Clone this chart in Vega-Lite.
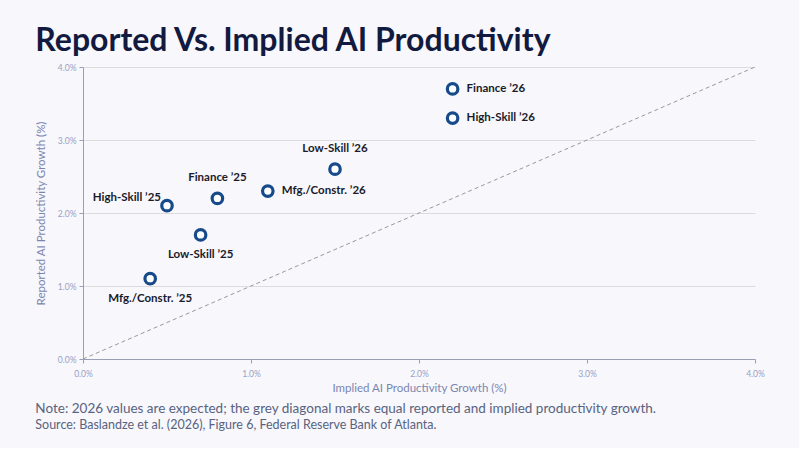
{
  "$schema": "https://vega.github.io/schema/vega-lite/v6.json",
  "background": "#f7f7fc",
  "padding": {"left": 35, "top": 25, "right": 34, "bottom": 17},
  "title": {
    "text": "Reported Vs. Implied AI Productivity",
    "anchor": "start",
    "frame": "bounds",
    "font": "Lato",
    "fontSize": 32,
    "fontWeight": "bold",
    "color": "#121a40",
    "offset": 5
  },
  "vconcat": [
    {
      "width": 672,
      "height": 292,
      "title": {
        "text": "Note: 2026 values are expected; the grey diagonal marks equal reported and implied productivity growth.",
        "subtitle": "Source: Baslandze et al. (2026), Figure 6, Federal Reserve Bank of Atlanta.",
        "orient": "bottom",
        "anchor": "start",
        "frame": "bounds",
        "offset": 8,
        "font": "Lato",
        "fontSize": 13.5,
        "fontWeight": "normal",
        "color": "#596380",
        "subtitleFont": "Lato",
        "subtitleFontSize": 12.5,
        "subtitleColor": "#596380",
        "subtitlePadding": 3
      },
      "layer": [
        {
          "data": {"values": [{"implied": 0, "reported": 0}, {"implied": 4, "reported": 4}]},
          "mark": {"type": "line", "color": "#9a9a9a", "strokeWidth": 1, "strokeDash": [4, 3]},
          "encoding": {
            "x": {"field": "implied", "type": "quantitative"},
            "y": {"field": "reported", "type": "quantitative"}
          }
        },
        {
          "data": {"name": "sectors"},
          "layer": [
            {
              "mark": {"type": "point", "shape": "circle", "filled": true, "fill": "#ffffff", "stroke": "#174a8b", "strokeWidth": 3.2, "size": 110, "opacity": 1}
            },
            {
              "transform": [{"filter": {"field": "label", "oneOf": ["Finance ’26", "High-Skill ’26", "Mfg./Constr. ’26"]}}],
              "mark": {"type": "text", "align": "left", "baseline": "middle", "dx": 14, "font": "Lato", "fontSize": 11.5, "fontWeight": "bold", "color": "#1b1b2b"},
              "encoding": {"text": {"field": "label"}}
            },
            {
              "transform": [{"filter": {"field": "label", "oneOf": ["Low-Skill ’26", "Finance ’25"]}}],
              "mark": {"type": "text", "align": "center", "baseline": "middle", "dy": -20, "font": "Lato", "fontSize": 11.5, "fontWeight": "bold", "color": "#1b1b2b"},
              "encoding": {"text": {"field": "label"}}
            },
            {
              "transform": [{"filter": {"field": "label", "oneOf": ["Low-Skill ’25", "Mfg./Constr. ’25"]}}],
              "mark": {"type": "text", "align": "center", "baseline": "middle", "dy": 20, "font": "Lato", "fontSize": 11.5, "fontWeight": "bold", "color": "#1b1b2b"},
              "encoding": {"text": {"field": "label"}}
            },
            {
              "transform": [{"filter": {"field": "label", "oneOf": ["High-Skill ’25"]}}],
              "mark": {"type": "text", "align": "right", "baseline": "middle", "dx": -6, "dy": -8, "font": "Lato", "fontSize": 11.5, "fontWeight": "bold", "color": "#1b1b2b"},
              "encoding": {"text": {"field": "label"}}
            }
          ],
          "encoding": {
            "x": {"field": "implied", "type": "quantitative"},
            "y": {"field": "reported", "type": "quantitative"}
          }
        }
      ],
      "encoding": {
        "x": {
          "field": "implied",
          "type": "quantitative",
          "scale": {"domain": [0, 4], "nice": false},
          "axis": {
            "title": "Implied AI Productivity Growth (%)",
            "values": [0, 1, 2, 3, 4],
            "labelExpr": "format(datum.value, '.1f') + '%'",
            "labelFlush": false,
            "grid": false
          }
        },
        "y": {
          "field": "reported",
          "type": "quantitative",
          "scale": {"domain": [0, 4], "nice": false},
          "axis": {
            "title": "Reported AI Productivity Growth (%)",
            "values": [0, 1, 2, 3, 4],
            "labelExpr": "format(datum.value, '.1f') + '%'",
            "labelFlush": false,
            "grid": true
          }
        }
      }
    }
  ],
  "datasets": {
    "sectors": [
      {"label": "Mfg./Constr. ’25", "implied": 0.4, "reported": 1.1},
      {"label": "High-Skill ’25", "implied": 0.5, "reported": 2.1},
      {"label": "Low-Skill ’25", "implied": 0.7, "reported": 1.7},
      {"label": "Finance ’25", "implied": 0.8, "reported": 2.2},
      {"label": "Mfg./Constr. ’26", "implied": 1.1, "reported": 2.3},
      {"label": "Low-Skill ’26", "implied": 1.5, "reported": 2.6},
      {"label": "Finance ’26", "implied": 2.2, "reported": 3.7},
      {"label": "High-Skill ’26", "implied": 2.2, "reported": 3.3}
    ]
  },
  "config": {
    "font": "Lato",
    "view": {"stroke": null},
    "axis": {
      "labelFont": "Lato",
      "labelFontSize": 8.5,
      "labelColor": "#98a1c4",
      "titleFont": "Lato",
      "titleFontSize": 11.5,
      "titleFontWeight": "normal",
      "titleColor": "#7b86b0",
      "domainColor": "#9a9fb5",
      "tickColor": "#9a9fb5",
      "tickSize": 4,
      "gridColor": "#dcdcdf",
      "gridWidth": 1
    },
    "axisX": {"titlePadding": 5, "labelPadding": 6},
    "axisY": {"titlePadding": 11, "labelPadding": 3}
  }
}
